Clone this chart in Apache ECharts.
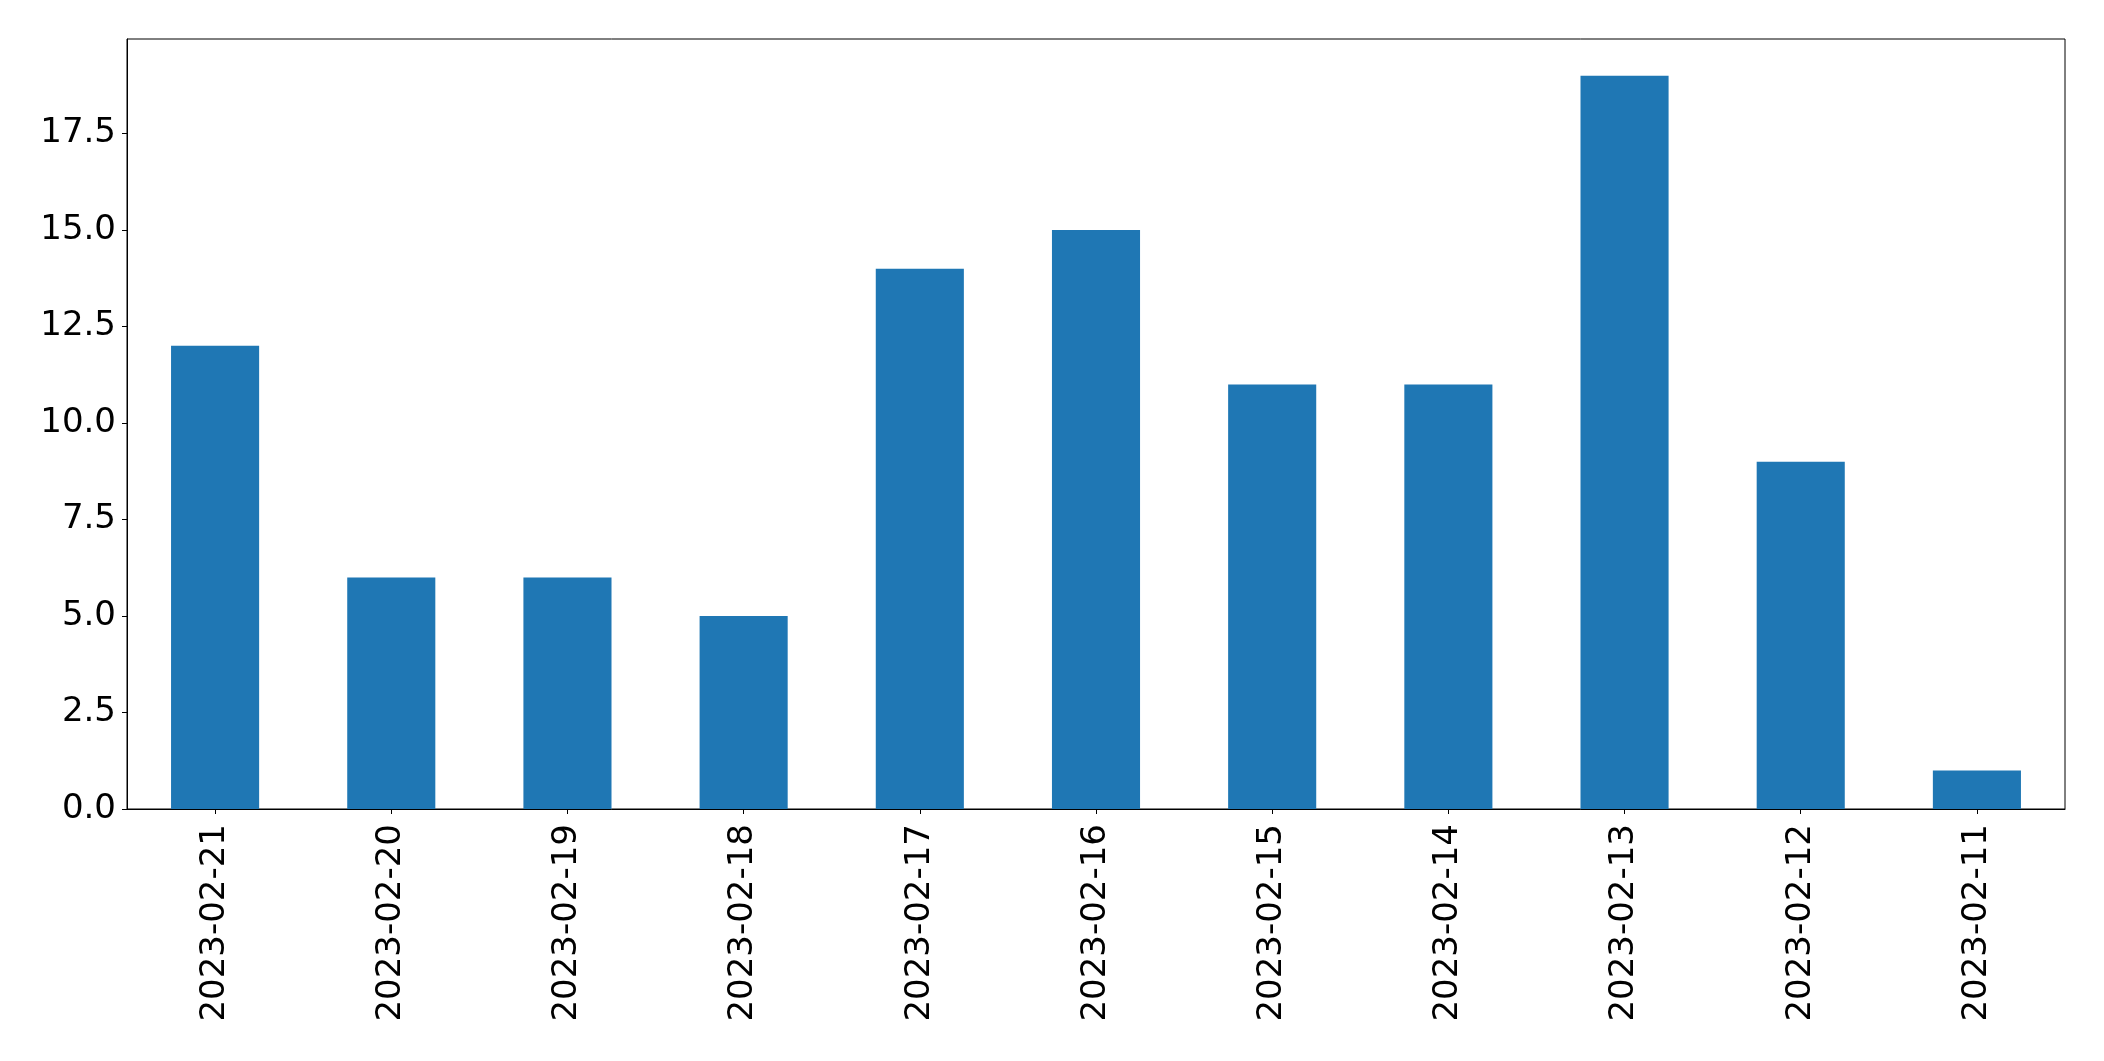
<!DOCTYPE html>
<html>
<head>
<meta charset="utf-8">
<script src="https://cdn.jsdelivr.net/npm/echarts@6/dist/echarts.min.js"></script>
<style>
html,body{margin:0;padding:0;background:#fff;}
#chart{width:2104px;height:1061px;}
</style>
</head>
<body>
<div id="chart"></div>
<script>
const categories = ["2023-02-21","2023-02-20","2023-02-19","2023-02-18","2023-02-17","2023-02-16","2023-02-15","2023-02-14","2023-02-13","2023-02-12","2023-02-11"];
const values = [12, 6, 6, 5, 14, 15, 11, 11, 19, 9, 1];
const yTicks = [0, 2.5, 5, 7.5, 10, 12.5, 15, 17.5];

const chart = echarts.init(document.getElementById('chart'));
chart.setOption({
  animation: false,
  backgroundColor: '#fff',
  grid: {left: 127, right: 39, top: 39, bottom: 252, show: true, borderColor: '#000', borderWidth: 1, containLabel: false},
  xAxis: {
    type: 'category',
    data: categories,
    boundaryGap: true,
    axisLine: {show: true, lineStyle: {color: '#000', width: 1}},
    axisTick: {show: true, alignWithLabel: true, length: 5, lineStyle: {color: '#000', width: 1}},
    axisLabel: {rotate: 90, fontSize: 34, fontFamily: 'DejaVu Sans', color: '#000', margin: 15, interval: 0},
    splitLine: {show: false}
  },
  yAxis: {
    type: 'value',
    min: 0,
    max: 19.95,
    interval: 2.5,
    axisLine: {show: true, lineStyle: {color: '#000', width: 1}},
    axisTick: {show: true, length: 5, lineStyle: {color: '#000', width: 1}, customValues: yTicks},
    axisLabel: {fontSize: 34, fontFamily: 'DejaVu Sans', color: '#000', margin: 11, customValues: yTicks,
      formatter: v => Number(v).toFixed(1)},
    splitLine: {show: false}
  },
  series: [{
    type: 'bar',
    data: values,
    barWidth: '50%',
    itemStyle: {color: '#1f77b4'}
  }]
});
</script>
</body>
</html>
